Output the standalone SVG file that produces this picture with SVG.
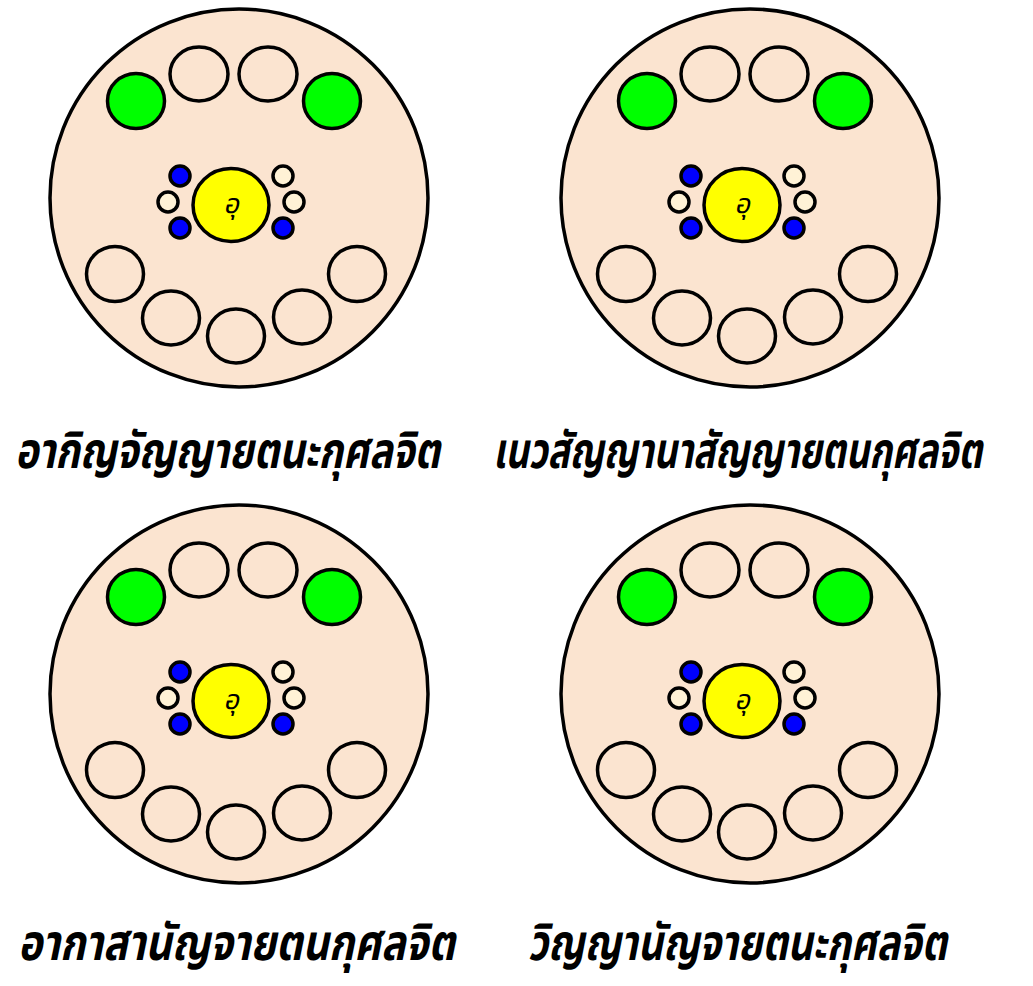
<svg xmlns="http://www.w3.org/2000/svg" width="1033" height="986" viewBox="0 0 1033 986">
<style>
.big{fill:#FBE4D0;stroke:#000;stroke-width:3.5}
.e{fill:#FBE4D0;stroke:#000;stroke-width:3.5}
.g{fill:#00FF00;stroke:#000;stroke-width:3.5}
.y{fill:#FFFF00;stroke:#000;stroke-width:3.5}
.b{fill:#0000FF;stroke:#000;stroke-width:3.5}
.c{fill:#FFF2D6;stroke:#000;stroke-width:3.5}
.u{font-family:"Noto Sans Thai","Noto Serif Thai","Noto Sans","DejaVu Sans",sans-serif;font-style:italic;font-size:27px;fill:#000;text-anchor:middle}
.lbl{font-family:"Noto Sans Thai","Noto Serif Thai","Noto Sans","DejaVu Sans",sans-serif;font-style:italic;font-weight:bold;font-size:50px;fill:#000}
</style>
<defs>
<g id="panel">
<circle class="big" cx="239" cy="198" r="189"/>
<ellipse class="g" cx="136" cy="101" rx="28.5" ry="27.5"/>
<ellipse class="e" cx="199" cy="74" rx="29" ry="27"/>
<ellipse class="e" cx="268" cy="74" rx="29" ry="27"/>
<ellipse class="g" cx="332" cy="101" rx="28.5" ry="27.5"/>
<ellipse class="y" cx="231" cy="205" rx="38" ry="36.5"/>
<text class="u" x="231" y="213">อุ</text>
<circle class="b" cx="180" cy="176" r="10"/>
<circle class="c" cx="168" cy="202" r="10"/>
<circle class="b" cx="180" cy="228" r="10"/>
<circle class="c" cx="283" cy="176" r="10"/>
<circle class="c" cx="294" cy="202" r="10"/>
<circle class="b" cx="283" cy="228" r="10"/>
<ellipse class="e" cx="115" cy="274" rx="28.5" ry="27.5"/>
<ellipse class="e" cx="171" cy="318" rx="28.5" ry="27"/>
<ellipse class="e" cx="236" cy="336" rx="28.5" ry="27"/>
<ellipse class="e" cx="302" cy="317" rx="28.5" ry="27"/>
<ellipse class="e" cx="357" cy="274" rx="28.5" ry="27.5"/>
</g>
</defs>
<g id="connectors"/>
<g id="panel1"><use href="#panel"/><text class="lbl" x="15" y="468" textLength="425" lengthAdjust="spacingAndGlyphs">อากิญจัญญายตนะกุศลจิต</text></g>
<g id="panel2"><use href="#panel" x="511"/><text class="lbl" x="493" y="468" textLength="489" lengthAdjust="spacingAndGlyphs">เนวสัญญานาสัญญายตนกุศลจิต</text></g>
<g id="panel3"><use href="#panel" y="496"/><text class="lbl" x="18" y="960" textLength="437" lengthAdjust="spacingAndGlyphs">อากาสานัญจายตนกุศลจิต</text></g>
<g id="panel4"><use href="#panel" x="511" y="496"/><text class="lbl" x="528" y="960" textLength="419" lengthAdjust="spacingAndGlyphs">วิญญานัญจายตนะกุศลจิต</text></g>
</svg>
